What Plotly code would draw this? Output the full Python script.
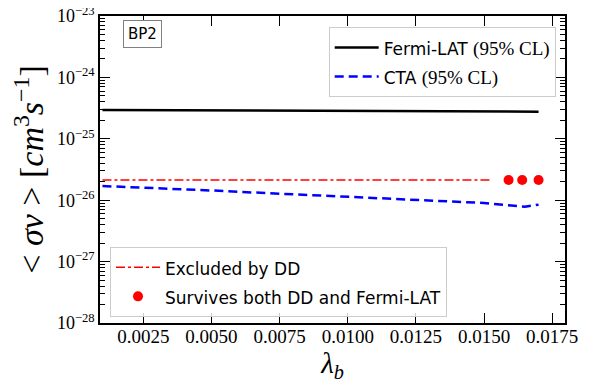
import math
import plotly.graph_objects as go

# --- Datos ---
lam_fermi = [0.001, 0.005, 0.009, 0.013, 0.017]
sv_fermi = [2.95e-25, 2.91e-25, 2.86e-25, 2.81e-25, 2.77e-25]

lam_cta = [0.001, 0.002, 0.003, 0.004, 0.005, 0.006, 0.007, 0.008, 0.009,
           0.010, 0.011, 0.012, 0.013, 0.014, 0.015, 0.016, 0.0165, 0.017]
sv_cta = [1.70e-26, 1.64e-26, 1.58e-26, 1.51e-26, 1.44e-26, 1.37e-26, 1.31e-26,
          1.25e-26, 1.19e-26, 1.15e-26, 1.09e-26, 1.05e-26, 9.95e-27, 9.48e-27,
          9.0e-27, 8.2e-27, 7.83e-27, 8.45e-27]

lam_dd = [0.001, 0.005, 0.010, 0.0152]
sv_dd = [2.13e-26, 2.13e-26, 2.13e-26, 2.13e-26]

lam_ok = [0.0159, 0.0164, 0.0170]
sv_ok = [2.13e-26, 2.13e-26, 2.13e-26]

xticks = [0.0025, 0.0050, 0.0075, 0.0100, 0.0125, 0.0150, 0.0175]
yticks = [1e-28, 1e-27, 1e-26, 1e-25, 1e-24, 1e-23]
# ticks menores del eje log (2..9 en cada decada)
yminor = [m * 10.0 ** e for e in range(-28, -23) for m in range(2, 10)]

SERIF = "Liberation Serif"
SANS = "DejaVu Sans"


def span(s, family, size):
    return f"<span style='font-family:{family};font-size:{size}px'>{s}</span>"


def sans(s):
    return span(s, SANS, 17)


def serif(s):
    return span(s, SERIF, 19)


fig = go.Figure()
fig.add_trace(go.Scatter(x=lam_fermi, y=sv_fermi, mode="lines",
                         line=dict(color="black", width=2.5),
                         name=sans("Fermi-LAT ") + serif("(95% CL)"), legend="legend"))
fig.add_trace(go.Scatter(x=lam_cta, y=sv_cta, mode="lines",
                         line=dict(color="blue", width=2.5, dash="9px,5px"),
                         name=sans("CTA ") + serif("(95% CL)"), legend="legend"))
fig.add_trace(go.Scatter(x=lam_dd, y=sv_dd, mode="lines",
                         line=dict(color="red", width=1.5, dash="9px,3px,3px,3px"),
                         name=sans("Excluded by DD"), legend="legend2"))
fig.add_trace(go.Scatter(x=lam_ok, y=sv_ok, mode="markers",
                         marker=dict(color="red", size=10),
                         name=sans("Survives both DD and Fermi-LAT"), legend="legend2"))

axis_common = dict(showgrid=False, zeroline=False, showline=True, linecolor="black",
                   linewidth=1.5, mirror="ticks", ticks="inside", tickcolor="black",
                   tickwidth=1.2, ticklen=10, automargin=False, ticklabeloverflow="allow")

fig.update_xaxes(range=[0.00091, 0.01797], tickvals=xticks,
                 ticktext=[f"{v:.4f}" for v in xticks],
                 tickfont=dict(family=SERIF, size=19, color="black"),
                 ticklabelstandoff=-5,
                 title=dict(text="<i>λ<sub>b</sub></i>", standoff=2,
                            font=dict(family=SERIF, size=29, color="black")),
                 **axis_common)
fig.update_yaxes(type="log", range=[-28, -23], tickvals=yticks,
                 ticktext=[f"10<sup>−{int(round(-math.log10(v)))}</sup>" for v in yticks],
                 tickfont=dict(family=SERIF, size=18, color="black"),
                 minor=dict(ticks="inside", ticklen=5, tickcolor="black", tickwidth=1,
                            tickvals=yminor, showgrid=False),
                 title=dict(text="&lt; <i>σv</i> &gt; [<i>cm</i><sup>3</sup><i>s</i><sup>−1</sup>]",
                            standoff=4, font=dict(family=SERIF, size=34, color="black")),
                 **axis_common)

legend_common = dict(bgcolor="rgba(255,255,255,0.8)", bordercolor="#cccccc", borderwidth=1,
                     itemwidth=44, font=dict(family=SANS, size=20, color="black"))
# la pagina tiene 8px de margen en body: la figura se corre 8px
fig.update_layout(
    width=581, height=381,
    margin=dict(l=92, r=24, t=8, b=66),
    paper_bgcolor="white", plot_bgcolor="white",
    showlegend=True,
    legend=dict(x=0.98, y=0.964, xanchor="right", yanchor="top", **legend_common),
    legend2=dict(x=0.0215, y=0.02, xanchor="left", yanchor="bottom", **legend_common),
    annotations=[dict(text="BP2", x=0.05, y=0.94, xref="paper", yref="paper",
                      xanchor="left", yanchor="middle", showarrow=False,
                      font=dict(family=SANS, size=15, color="black"),
                      bordercolor="gray", borderwidth=1, borderpad=4, bgcolor="white")],
)

fig.write_html("out.html")
